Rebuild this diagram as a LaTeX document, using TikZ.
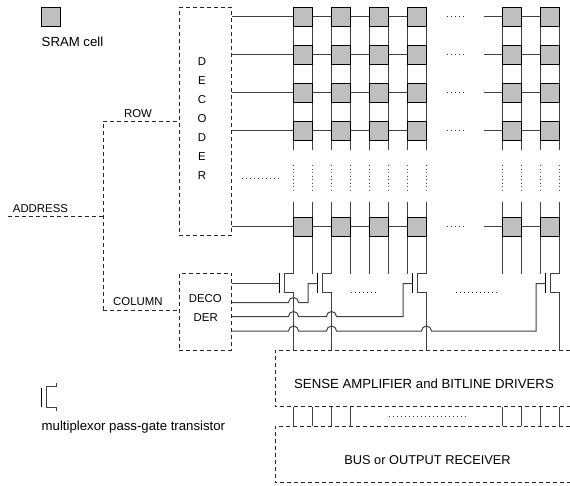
\documentclass[tikz,border=0pt]{standalone}
\usepackage{fontspec}
\setmainfont{Liberation Sans}
\definecolor{cellgray}{gray}{0.75}
\tikzset{
  x=1pt,y=-1pt,
  wire/.style={line width=1pt,black!75},
  dashline/.style={line width=0.75pt,black!85,dash pattern=on 4pt off 3pt},
  cellbox/.style={draw=black,line width=0.9pt,fill=cellgray,minimum width=19pt,minimum height=19pt,inner sep=0pt,outer sep=0pt},
  vdotline/.style={line width=0.6pt,black!70,dash pattern=on 1pt off 2.5pt},
  hdotline/.style={line width=0.6pt,black!80,dash pattern=on 1pt off 3pt},
  lbl/.style={font=\fontsize{11.4pt}{13pt}\selectfont,inner sep=0pt,anchor=base},
  biglbl/.style={font=\fontsize{13.2pt}{15pt}\selectfont,inner sep=0pt,anchor=base},
  gatebar/.style={line width=1pt,black},
}
\begin{document}
\begin{tikzpicture}
\useasboundingbox (0,0) rectangle (570,485);
% legend
\node[cellbox] (legcell) at (51,16.8) {};
\node[biglbl,anchor=base west] (legtxt) at (41.5,46) {SRAM cell};
% address lines
\coordinate (addrL) at (8,216.7);
\coordinate (addrJ) at (103.3,216.7);
\coordinate (rowJ) at (103.3,121.3);
\coordinate (colJ) at (103.3,310);
\draw[dashline] (addrL) -- (addrJ);
\draw[dashline] (colJ) -- (rowJ);
\node[lbl,anchor=base west] (addr) at (12.7,212) {ADDRESS};
\node[lbl] (rowt) at (138,117.3) {ROW};
\node[lbl,anchor=base west] (colt) at (113,305) {COLUMN};
% decoders
\node[dashline,draw,minimum width=52.4pt,minimum height=228pt,inner sep=0pt,outer sep=0pt] (dec) at (205.5,121.3) {};
\node[dashline,draw,minimum width=52.4pt,minimum height=76.5pt,inner sep=0pt,outer sep=0pt] (dec2) at (205.5,311.75) {};
\draw[dashline] (rowJ) -- (rowJ-|dec.west);
\draw[dashline] (colJ) -- (colJ-|dec2.west);
\foreach \t/\y in {D/65,E/84,C/103,O/122,D/141,E/160,R/179}{
  \node[lbl] at (202,\y) {\t};
}
\node[lbl] (d1) at (205.3,302) {DECO};
\node[lbl] (d2) at (205.7,321.7) {DER};
% word lines
\foreach \y in {16.5,54.5,92.5,130.5,226.5}{
  \draw[wire] (232,\y) -- (426.5,\y);
  \draw[wire] (484,\y) -- (540.5,\y);
  \draw[hdotline] (446.5,\y) -- (465.5,\y);
}
% bit lines
\foreach \x in {293.5,312.5,331.5,350.5,369.5,388.5,407.5,426.5,502.5,521.5,540.5,559.5}{
  \draw[wire] (\x,7.3) -- (\x,150);
  \draw[vdotline] (\x,165) -- (\x,191);
  \draw[wire] (\x,202) -- (\x,273.5);
}
\foreach \x in {293.5,331.5,369.5,407.5,502.5,540.5}{
  \foreach \y in {16.7,54.7,92.7,130.7,226.5}{
    \node[cellbox] at (\x+9.5,\y) {};
  }
}
\draw[hdotline] (242,178) -- (281,178);
% transistors
\foreach \x in {293.5,331.5,426.5,559.5}{
  \draw[wire] (\x,273.5) -- (\x-9.5,273.5) -- (\x-9.5,292.5) -- (\x,292.5);
  \draw[gatebar] (\x-14,273.3) -- (\x-14,292.7);
}
% lower bit lines
\foreach \x in {293.5,331.5,426.5,559.5}{
  \draw[wire] (\x,292.5) -- (\x,350);
}
% gate wires
\draw[wire] (232,283.5) -- (279.5,283.5);
\draw[wire] (232,302.5) -- (288.5,302.5) arc[start angle=180,end angle=360,radius=5] -- (308,302.5) -- (308,283.5) -- (317.5,283.5);
\draw[wire] (232,316.5) -- (288.5,316.5) arc[start angle=180,end angle=360,radius=5] -- (326.5,316.5) arc[start angle=180,end angle=360,radius=5] -- (403,316.5) -- (403,283.5) -- (412.5,283.5);
\draw[wire] (232,331) -- (288.5,331) arc[start angle=180,end angle=360,radius=5] -- (326.5,331) arc[start angle=180,end angle=360,radius=5] -- (421.5,331) arc[start angle=180,end angle=360,radius=5] -- (536,331) -- (536,283.5) -- (545.5,283.5);
\draw[hdotline] (351,292.7) -- (376,292.7);
\draw[hdotline] (456,292.7) -- (500,292.7);
% sense amp and bus
\coordinate (sTL) at (275,350);
\coordinate (sBL) at (275,406.7);
\coordinate (bTL) at (275,426);
\coordinate (bBL) at (275,482.7);
\draw[dashline] (570,350) -- (sTL) -- (sBL) -- (570,406.7);
\draw[dashline] (570,426) -- (bTL) -- (bBL) -- (570,482.7);
\node[biglbl] (sa) at (424,388) {SENSE AMPLIFIER and BITLINE DRIVERS};
\node[biglbl,font=\fontsize{12.8pt}{15pt}\selectfont] (bus) at (427.5,464) {BUS or OUTPUT RECEIVER};
\foreach \x in {293.5,312.5,331.5,350.5,502.5,521.5,540.5,559.5}{
  \draw[wire] (\x,406.7) -- (\x,426);
}
\draw[hdotline] (389,416) -- (466,416);
% legend transistor
\draw[gatebar] (41.7,388.3) -- (41.7,406.7);
\draw[wire] (56,383.3) -- (56,386.8) -- (46.3,386.8) -- (46.3,407.3) -- (56,407.3) -- (56,411.3);
\node[biglbl,anchor=base west] (legtr) at (41.5,430.7) {multiplexor pass-gate transistor};
\end{tikzpicture}
\end{document}
